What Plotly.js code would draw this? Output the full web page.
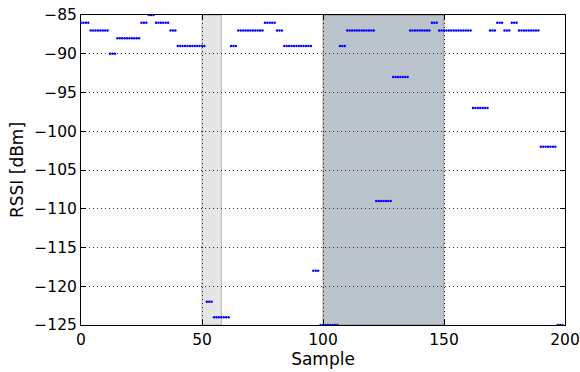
<!DOCTYPE html>
<html>
<head>
<meta charset="utf-8">
<script src="https://cdn.plot.ly/plotly-3.0.1.min.js"></script>
<style>html,body{margin:0;padding:0;background:#fff;}#chart{width:580px;height:372px;}</style>
</head>
<body>
<div id="chart"></div>
<script>
// RSSI readings per sample (dBm)
const rssi = [
  -86,-86,-86,-86,
  -87,-87,-87,-87,-87,-87,-87,-87,
  -90,-90,-90,
  -88,-88,-88,-88,-88,-88,-88,-88,-88,-88,
  -86,-86,-86,
  -85,-85,-85,
  -86,-86,-86,-86,-86,-86,
  -87,-87,-87,
  -89,-89,-89,-89,-89,-89,-89,-89,-89,-89,-89,-89,
  -122,-122,-122,
  -124,-124,-124,-124,-124,-124,-124,
  -89,-89,-89,
  -87,-87,-87,-87,-87,-87,-87,-87,-87,-87,-87,
  -86,-86,-86,-86,-86,
  -87,-87,-87,
  -89,-89,-89,-89,-89,-89,-89,-89,-89,-89,-89,-89,
  -118,-118,-118,
  -125,-125,-125,-125,-125,-125,-125,-125,
  -89,-89,-89,
  -87,-87,-87,-87,-87,-87,-87,-87,-87,-87,-87,-87,
  -109,-109,-109,-109,-109,-109,-109,
  -93,-93,-93,-93,-93,-93,-93,
  -87,-87,-87,-87,-87,-87,-87,-87,-87,
  -86,-86,-86,
  -87,-87,-87,-87,-87,-87,-87,-87,-87,-87,-87,-87,-87,-87,
  -97,-97,-97,-97,-97,-97,-97,
  -87,-87,-87,
  -86,-86,-86,
  -87,-87,-87,
  -86,-86,-86,
  -87,-87,-87,-87,-87,-87,-87,-87,-87,
  -102,-102,-102,-102,-102,-102,-102,
  -125,-125,-125
];
const samples = rssi.map((_, i) => i);

// Highlighted sample spans
const lightSpan = [50, 58];
const darkSpan = [100, 150];

const xTicks = [0, 50, 100, 150, 200];
const yTicks = [-125, -120, -115, -110, -105, -100, -95, -90, -85];

const font = {family: 'DejaVu Sans, sans-serif', color: '#000'};

const axisCommon = {
  showline: true, linecolor: '#000', linewidth: 1, mirror: 'ticks',
  ticks: 'inside', ticklen: 5, tickwidth: 1, tickcolor: '#000',
  showgrid: true, gridcolor: 'rgba(0,0,0,0.8)', gridwidth: 1, griddash: '1px,3px',
  zeroline: false, tickfont: Object.assign({size: 15.5}, font)
};

const data = [{
  x: samples, y: rssi, type: 'scatter', mode: 'markers',
  marker: {color: '#0000ff', size: 2.4},
  cliponaxis: true, hoverinfo: 'skip'
}];

const layout = {
  width: 580, height: 372,
  margin: {l: 81, r: 14.5, t: 14.5, b: 46.5},
  paper_bgcolor: '#fff', plot_bgcolor: '#fff',
  showlegend: false,
  xaxis: Object.assign({}, axisCommon, {
    range: [0, 200], tickvals: xTicks,
    title: {text: 'Sample', font: Object.assign({size: 17}, font), standoff: 5}
  }),
  yaxis: Object.assign({}, axisCommon, {
    range: [-125, -85], tickvals: yTicks,
    title: {text: 'RSSI [dBm]', font: Object.assign({size: 17}, font), standoff: 6}
  }),
  shapes: [
    {type: 'rect', xref: 'x', yref: 'paper', x0: lightSpan[0], x1: lightSpan[1], y0: 0, y1: 1,
     fillcolor: '#e6e6e6', line: {color: 'rgba(0,0,0,0.25)', width: 1}, layer: 'below'},
    {type: 'rect', xref: 'x', yref: 'paper', x0: darkSpan[0], x1: darkSpan[1], y0: 0, y1: 1,
     fillcolor: '#bbc3cc', line: {color: 'rgba(0,0,0,0.3)', width: 1}, layer: 'below'}
  ]
};

Plotly.newPlot('chart', data, layout, {staticPlot: true, displayModeBar: false});
</script>
</body>
</html>
